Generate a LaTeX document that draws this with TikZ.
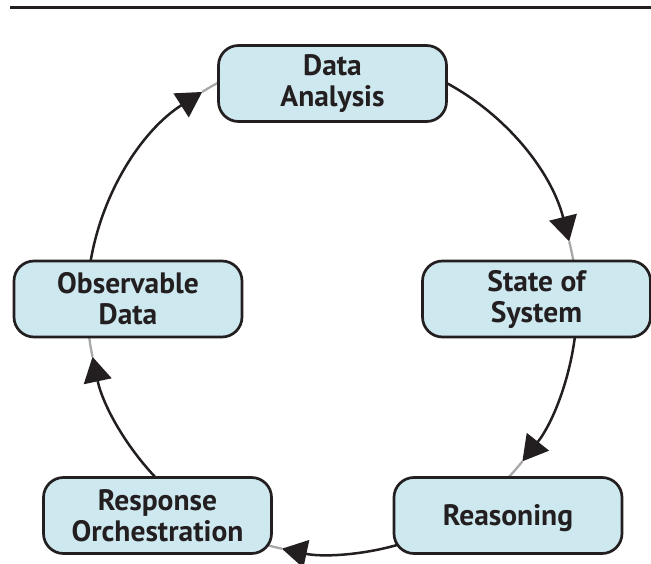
\documentclass[tikz,border=0pt]{standalone}
\usepackage{fontspec}
\setmainfont{PT Sans}
\usetikzlibrary{arrows.meta,calc}
\definecolor{ink}{HTML}{231F20}
\definecolor{boxfill}{HTML}{CDE8EF}
\definecolor{leadgray}{HTML}{A8A8A8}
\begin{document}
\begin{tikzpicture}[x=1pt,y=1pt,
  stage/.style={draw=ink, line width=2.7pt, fill=boxfill, rounded corners=20pt,
    minimum width=228pt, minimum height=76pt, inner sep=0pt, align=center,
    text=ink, font=\bfseries\fontsize{29.5}{31}\selectfont},
  flow/.style={draw=ink, line width=2.5pt, -{Triangle[length=25pt,width=28pt]}},
  lead/.style={draw=leadgray, line width=2.3pt},
  ring/.style={x radius=245pt, y radius=250pt}]
\useasboundingbox (0,0) rectangle (651,563);

% rule across the top
\coordinate (ruleL) at (10,555.2);
\coordinate (ruleR) at (651,555.2);
\draw[ink, line width=2.8pt] (ruleL) -- (ruleR);

% centre of the cycle
\coordinate (ctr) at (332,259);

% points on the ring: start (s), arrow tip (t), end at next box (e)
\foreach \n/\s/\t/\e in {1/64/14.5/8, 2/-5/-39/-46, 3/-73/-101.8/-106,
                         4/-134/-167.8/-174, 5/172/122/116}{
  \coordinate (s\n) at ($(ctr)+(\s:245pt and 250pt)$);
  \coordinate (t\n) at ($(ctr)+(\t:245pt and 250pt)$);
  \coordinate (e\n) at ($(ctr)+(\e:245pt and 250pt)$);
}

% short grey leads from each arrow tip into the next box
\draw[lead] (t1) arc[start angle=14.5, end angle=8, ring];
\draw[lead] (t2) arc[start angle=-39, end angle=-46, ring];
\draw[lead] (t3) arc[start angle=-101.8, end angle=-106, ring];
\draw[lead] (t4) arc[start angle=-167.8, end angle=-174, ring];
\draw[lead] (t5) arc[start angle=122, end angle=116, ring];

% curved arrows of the cycle
\draw[flow] (s1) arc[start angle=64, end angle=14.5, ring];
\draw[flow] (s2) arc[start angle=-5, end angle=-39, ring];
\draw[flow] (s3) arc[start angle=-73, end angle=-101.8, ring];
\draw[flow] (s4) arc[start angle=-134, end angle=-167.8, ring];
\draw[flow] (s5) arc[start angle=172, end angle=122, ring];

% the five stages
\node[stage] (analysis) at (332.5,479.5) {Data\\Analysis};
\node[stage] (state) at (536.5,264) {State of\\System};
\node[stage, text height=24pt, text depth=5pt] (reason) at (508,47.5) {Reasoning};
\node[stage] (response) at (157.5,47.5) {Response\\Orchestration};
\node[stage] (observe) at (128,264) {Observable\\Data};
\end{tikzpicture}
\end{document}
